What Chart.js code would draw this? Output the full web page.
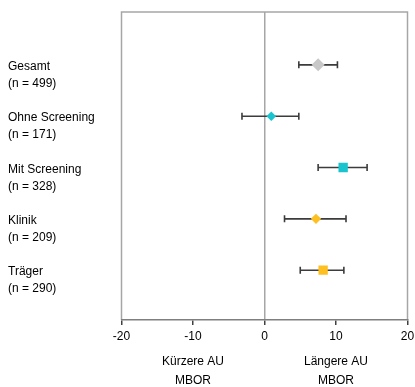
<!DOCTYPE html>
<html><head><meta charset="utf-8">
<script src="https://cdn.jsdelivr.net/npm/chart.js@4"></script>
<style>html,body{margin:0;padding:0;background:#fff}#wrap{width:415px;height:387px}</style>
</head><body><div id="wrap"><canvas id="c"></canvas></div>
<script>
const groups = ["Gesamt", "Ohne Screening", "Mit Screening", "Klinik", "Träger"];
const nLabels = ["(n = 499)", "(n = 171)", "(n = 328)", "(n = 209)", "(n = 290)"];
const means = [7.5, 0.95, 11.0, 7.2, 8.2];
const lower = [4.8, -3.15, 7.5, 2.8, 5.0];
const upper = [10.2, 4.8, 14.35, 11.4, 11.1];
const xTicks = [-20, -10, 0, 10, 20];
const bottomNotes = [["Kürzere AU", "MBOR"], ["Längere AU", "MBOR"]];
const bottomNotePos = [-10, 10];

const colors = ["#C8C8C8", "#1AC4CE", "#1AC4CE", "#FDC020", "#FDC020"];
const styles = ["rectRot", "rectRot", "rect", "rectRot", "rect"];
const radii = [6.5, 4.8, 6.6, 5.2, 6.6];

const FONT = "'Liberation Sans', Arial, sans-serif";

const errPlugin = {
  id: 'err',
  beforeDatasetsDraw(chart) {
    const ctx = chart.ctx, xs = chart.scales.x, ys = chart.scales.y;
    ctx.save();
    ctx.strokeStyle = '#3c3c3c';
    ctx.lineWidth = 1.6;
    groups.forEach((g, i) => {
      const y = ys.getPixelForValue(i + 1);
      const x1 = xs.getPixelForValue(lower[i]);
      const x2 = xs.getPixelForValue(upper[i]);
      ctx.beginPath();
      ctx.moveTo(x1, y); ctx.lineTo(x2, y);
      ctx.moveTo(x1, y - 3.5); ctx.lineTo(x1, y + 3.5);
      ctx.moveTo(x2, y - 3.5); ctx.lineTo(x2, y + 3.5);
      ctx.stroke();
    });
    ctx.restore();
  },
  beforeDraw(chart) {
    const a = chart.chartArea, ctx = chart.ctx;
    ctx.save();
    ctx.strokeStyle = '#a6a6a6';
    ctx.lineWidth = 1.5;
    ctx.beginPath();
    ctx.moveTo(a.left, a.bottom); ctx.lineTo(a.left, a.top);
    ctx.lineTo(a.right, a.top); ctx.lineTo(a.right, a.bottom);
    ctx.stroke();
    ctx.restore();
  }
};

const noPad = s => { s.paddingTop = 0; s.paddingBottom = 0; s.paddingLeft = 0; s.paddingRight = 0; };

new Chart(document.getElementById('c'), {
  type: 'scatter',
  data: {
    datasets: [{
      data: means.map((m, i) => ({x: m, y: i + 1})),
      pointStyle: styles,
      pointRadius: radii,
      pointHoverRadius: radii,
      backgroundColor: colors,
      borderColor: colors,
      borderWidth: 0,
      xAxisID: 'x',
      yAxisID: 'y'
    }]
  },
  options: {
    responsive: true,
    maintainAspectRatio: false,
    animation: false,
    events: [],
    layout: {padding: {left: 8, right: 7.5, top: 12, bottom: 0}},
    plugins: {legend: {display: false}, tooltip: {enabled: false}},
    scales: {
      x: {
        type: 'linear', position: 'bottom', min: -20, max: 20,
        afterBuildTicks: s => { s.ticks = xTicks.map(v => ({value: v})); },
        grid: {
          color: c => c.tick && c.tick.value === 0 ? '#a6a6a6' : 'rgba(0,0,0,0)',
          lineWidth: 1.5,
          drawTicks: true, tickLength: 5, tickColor: '#404040', tickWidth: 1.5
        },
        border: {display: true, color: '#7f7f7f', width: 1.5},
        ticks: {color: '#000', font: {family: FONT, size: 12}, padding: 4, maxRotation: 0,
          callback: v => String(v)},
        afterFit: s => { s.height = 28; noPad(s); }
      },
      x2: {
        type: 'linear', position: 'bottom', min: -20, max: 20,
        afterBuildTicks: s => { s.ticks = bottomNotePos.map(v => ({value: v})); },
        grid: {display: false, drawTicks: false},
        border: {display: false},
        ticks: {color: '#000', font: {family: FONT, size: 12, lineHeight: 1.6}, padding: 4, maxRotation: 0,
          callback: (v) => { const k = bottomNotePos.indexOf(v); return k >= 0 ? bottomNotes[k] : ''; }},
        afterFit: s => { s.height = 39; noPad(s); }
      },
      y: {
        type: 'linear', min: -0.03, max: 5.97, reverse: true,
        display: true,
        grid: {display: false, drawTicks: false},
        border: {display: false},
        ticks: {display: false},
        afterFit: s => { s.width = 0; noPad(s); }
      },
      yl: {
        type: 'linear', position: 'left', min: -0.23, max: 5.77, reverse: true,
        afterBuildTicks: s => { s.ticks = groups.map((g, i) => ({value: i + 1})); },
        grid: {display: false, drawTicks: false},
        border: {display: false},
        ticks: {color: '#000', font: {family: FONT, size: 12, lineHeight: 1.4}, crossAlign: 'far', padding: 0,
          callback: v => { const i = Math.round(v) - 1; return i >= 0 && i < groups.length ? [groups[i], nLabels[i]] : ''; }},
        afterFit: s => { s.width = 113.5; noPad(s); }
      }
    }
  },
  plugins: [errPlugin]
});
</script>
</body></html>
